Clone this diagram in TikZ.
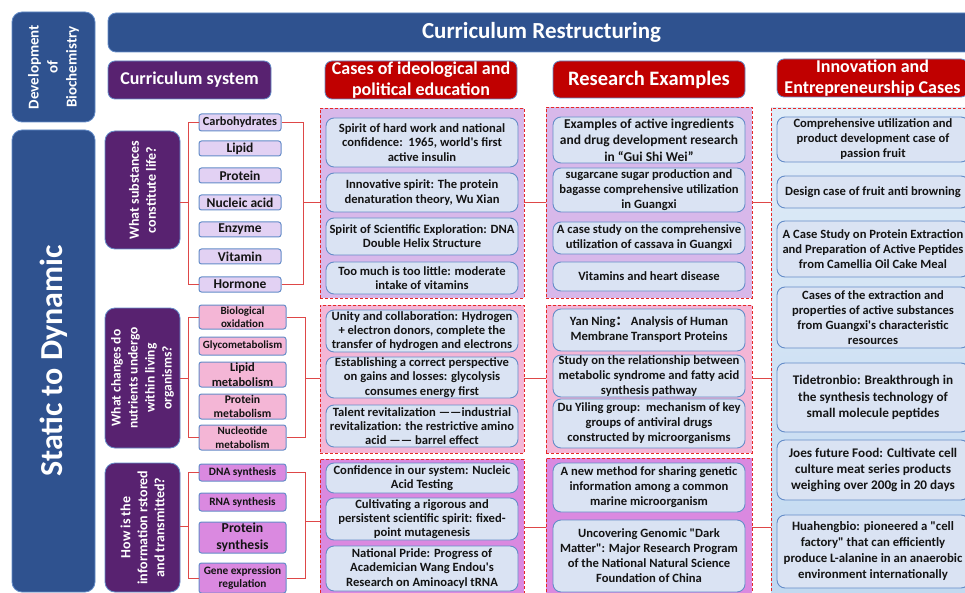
\documentclass[tikz,border=0pt]{standalone}
\usepackage{fontspec}
\usepackage{graphicx}
\setmainfont{Carlito}[Ligatures=TeXOff]
\newfontfamily\cjkfont{Noto Sans CJK SC}
\usetikzlibrary{calc}

\definecolor{navy}{RGB}{47,82,143}
\definecolor{plum}{RGB}{88,34,112}
\definecolor{brick}{RGB}{192,0,0}
\definecolor{rim}{RGB}{100,140,200}
\definecolor{ink}{RGB}{20,20,20}
\definecolor{lavitem}{RGB}{226,209,243}
\definecolor{pinkitem}{RGB}{244,182,214}
\definecolor{orchitem}{RGB}{218,137,224}
\definecolor{lavbg}{RGB}{216,184,234}
\definecolor{pinkbg}{RGB}{244,182,214}
\definecolor{orchbg}{RGB}{218,137,224}
\definecolor{paleblue}{RGB}{218,227,243}
\definecolor{linkred}{RGB}{222,72,72}
\definecolor{dashred}{RGB}{230,40,40}
\definecolor{skytop}{RGB}{224,236,248}
\definecolor{skybot}{RGB}{192,216,240}

% box given by its corners (x1,y1)-(x2,y2), centred text
\newcommand\boxnode[7]{%
  \pgfmathsetmacro\Bw{#5-#3}\pgfmathsetmacro\Bh{#6-#4}%
  \pgfmathsetmacro\Bx{(#3+#5)/2}\pgfmathsetmacro\By{(#4+#6)/2}%
  \node[#2,align=center,minimum width=\Bw pt,minimum height=\Bh pt,
        inner xsep=2pt,inner ysep=0pt] (#1) at (\Bx,\By) {#7};}
% same, with the text turned upright (reading bottom to top)
\newcommand\vboxnode[8]{%
  \pgfmathsetmacro\Bw{#5-#3}\pgfmathsetmacro\Bh{#6-#4}%
  \pgfmathsetmacro\Bx{(#3+#5)/2}\pgfmathsetmacro\By{(#4+#6)/2}%
  \node[#2,minimum width=\Bw pt,minimum height=\Bh pt,inner sep=0pt]
    (#1) at (\Bx,\By) {\rotatebox{90}{\parbox{#7pt}{\centering #8}}};}

\begin{document}
\begin{tikzpicture}[x=1pt,y=-1pt,
  navybox/.style={fill=navy,draw=rim,line width=0.8pt,rounded corners=10pt,text=white},
  plumbox/.style={fill=plum,draw=rim,line width=0.8pt,rounded corners=10pt,text=white},
  redhead/.style={fill=brick,draw=rim,line width=0.8pt,rounded corners=7pt,text=white,
                  font=\bfseries\fontsize{18}{21}\selectfont},
  item/.style={draw=rim,line width=1pt,rounded corners=2.5pt,text=ink},
  itemA/.style={item,fill=lavitem,font=\bfseries\fontsize{13.5}{15}\selectfont},
  itemB/.style={item,fill=pinkitem,font=\bfseries\fontsize{11}{13.5}\selectfont},
  itemC/.style={item,fill=orchitem,font=\bfseries\fontsize{11.3}{13.5}\selectfont},
  panel/.style={draw=dashred,line width=0.9pt,dash pattern=on 3pt off 2pt},
  card/.style={fill=paleblue,draw=rim,line width=0.9pt,rounded corners=8pt,text=ink,
               font=\bfseries\fontsize{12.6}{14.2}\selectfont},
  cardw/.style={card,font=\bfseries\fontsize{12.6}{15}\selectfont},
  link/.style={draw=linkred,line width=0.9pt}]

\useasboundingbox (0,0) rectangle (965,593);
\clip (0,0) rectangle (965,593);
\fill[white] (0,0) rectangle (965,593);

% ---------- headings ----------
\vboxnode{dev}{navybox,font=\bfseries\fontsize{15}{19}\selectfont}{12}{12}{95}{122}{100}{Development\\of\\Biochemistry}
\boxnode{title}{navybox,rounded corners=8pt,font=\bfseries\fontsize{23}{26}\selectfont}{108}{13}{975}{52}{Curriculum Restructuring}
\vboxnode{stat}{navybox,font=\bfseries\fontsize{32}{36}\selectfont}{12}{130}{95}{592}{400}{Static to Dynamic}

\boxnode{csys}{plumbox,rounded corners=7pt,font=\bfseries\fontsize{18}{21}\selectfont}{108}{61}{271}{99}{Curriculum system}
\boxnode{hcase}{redhead}{325}{61}{517}{99}{Cases of ideological and\\political education}
\boxnode{hres}{redhead,font=\bfseries\fontsize{20.5}{23}\selectfont}{553}{61}{745}{98}{Research Examples}
\boxnode{hinno}{redhead}{777}{59}{968}{97}{Innovation and\\Entrepreneurship Cases}

% ---------- guiding questions ----------
\vboxnode{q1}{plumbox,font=\bfseries\fontsize{14}{17}\selectfont}{105}{131}{180}{249}{112}{What substances\\constitute life?}
\vboxnode{q2}{plumbox,font=\bfseries\fontsize{13.5}{17}\selectfont}{105}{308}{180}{448}{130}{What changes do\\nutrients undergo\\within living\\organisms?}
\vboxnode{q3}{plumbox,font=\bfseries\fontsize{14}{17}\selectfont}{105}{463}{180}{592}{125}{How is the\\information rstored\\and transmitted?}

% ---------- topics ----------
\boxnode{carb}{itemA,font=\bfseries\fontsize{12.3}{14}\selectfont}{199}{114}{281}{131}{Carbohydrates}
\boxnode{lipid}{itemA}{199}{141}{281}{156}{Lipid}
\boxnode{prot}{itemA}{199}{168}{281}{183}{Protein}
\boxnode{nucl}{itemA}{199}{195}{281}{210}{Nucleic acid}
\boxnode{enz}{itemA}{199}{222}{281}{237}{Enzyme}
\boxnode{vit}{itemA}{199}{249}{281}{264}{Vitamin}
\boxnode{horm}{itemA}{199}{277}{281}{292}{Hormone}

\boxnode{bio}{itemB}{199}{305}{286}{329}{Biological\\oxidation}
\boxnode{glyco}{itemB}{199}{337}{286}{355}{Glycometabolism}
\boxnode{lipm}{itemB,font=\bfseries\fontsize{12.5}{14.5}\selectfont}{199}{362}{286}{387}{Lipid\\metabolism}
\boxnode{protm}{itemB,font=\bfseries\fontsize{11.7}{13.5}\selectfont}{199}{394}{286}{419}{Protein\\metabolism}
\boxnode{nucm}{itemB}{199}{425}{286}{450}{Nucleotide\\metabolism}

\boxnode{dna}{itemC}{199}{464}{286}{481}{DNA synthesis}
\boxnode{rna}{itemC}{199}{493}{286}{511}{RNA synthesis}
\boxnode{psyn}{itemC,font=\bfseries\fontsize{13.7}{16.5}\selectfont}{199}{522}{286}{553}{Protein\\synthesis}
\boxnode{gene}{itemC}{199}{563}{286}{593}{Gene expression\\regulation}

% ---------- ideological and political education ----------
\boxnode{pa1}{panel,fill=lavbg}{320}{108}{524}{298}{}
\boxnode{pa2}{panel,fill=pinkbg}{320}{305}{524}{453}{}
\boxnode{pa3}{panel,fill=orchbg}{320}{459}{524}{620}{}

\boxnode{a1}{card}{326}{118}{518}{167}{Spirit of hard work and national\\confidence:\ \ 1965, world's first\\active insulin}
\boxnode{a2}{card}{326}{173}{518}{212}{Innovative spirit: The protein\\denaturation theory, Wu Xian}
\boxnode{a3}{card}{326}{218}{518}{255}{Spirit of Scientific Exploration: DNA\\Double Helix Structure}
\boxnode{a4}{card}{326}{262}{518}{294}{Too much is too little: moderate\\intake of vitamins}
\boxnode{a5}{card}{326}{310}{518}{352}{Unity and collaboration: Hydrogen\\+ electron donors, complete the\\transfer of hydrogen and electrons}
\boxnode{a6}{card}{326}{357}{518}{398}{Establishing a correct perspective\\on gains and losses: glycolysis\\consumes energy first}
\boxnode{a7}{card}{326}{405}{518}{447}{Talent revitalization ——industrial\\revitalization: the restrictive amino\\acid —— barrel effect}
\boxnode{a8}{card}{326}{463}{518}{493}{Confidence in our system: Nucleic\\Acid Testing}
\boxnode{a9}{card}{326}{498}{518}{540}{Cultivating a rigorous and\\persistent scientific spirit: fixed-\\point mutagenesis}
\boxnode{a10}{card}{326}{546}{518}{591}{National Pride: Progress of\\Academician Wang Endou's\\Research on Aminoacyl tRNA}

% ---------- research examples ----------
\boxnode{pb1}{panel,fill=lavbg}{546}{107}{752}{298}{}
\boxnode{pb2}{panel,fill=pinkbg}{546}{305}{752}{453}{}
\boxnode{pb3}{panel,fill=orchbg}{546}{458}{752}{620}{}

\boxnode{b1}{cardw,font=\bfseries\fontsize{13.5}{16.5}\selectfont}{553}{117}{745}{163}{Examples of active ingredients\\and drug development research\\in “Gui Shi Wei”}
\boxnode{b2}{cardw}{553}{168}{745}{212}{sugarcane sugar production and\\bagasse comprehensive utilization\\in Guangxi}
\boxnode{b3}{cardw}{553}{222}{745}{254}{A case study on the comprehensive\\utilization of cassava in Guangxi}
\boxnode{b4}{cardw}{553}{262}{745}{291}{Vitamins and heart disease}
\boxnode{b5}{cardw}{553}{309}{745}{351}{Yan Ning{\cjkfont ：}\ Analysis of Human\\Membrane Transport Proteins}
\boxnode{b6}{cardw}{553}{355}{745}{397}{Study on the relationship between\\metabolic syndrome and fatty acid\\synthesis pathway}
\boxnode{b7}{cardw}{553}{399}{745}{448}{Du Yiling group:\ \ mechanism of key\\groups of antiviral drugs\\constructed by microorganisms}
\boxnode{b8}{cardw}{553}{463}{745}{512}{A new method for sharing genetic\\information among a common\\marine microorganism}
\boxnode{b9}{cardw}{553}{520}{745}{592}{Uncovering Genomic "Dark\\Matter": Major Research Program\\of the National Natural Science\\Foundation of China}

% ---------- innovation and entrepreneurship ----------
\boxnode{pc}{panel,top color=skytop,bottom color=skybot}{771}{108}{990}{620}{}

\boxnode{c1}{cardw}{777}{117}{969}{162}{Comprehensive utilization and\\product development case of\\passion fruit}
\boxnode{c2}{cardw}{777}{176}{969}{208}{Design case of fruit anti browning}
\boxnode{c3}{cardw}{777}{221}{969}{277}{A Case Study on Protein Extraction\\and Preparation of Active Peptides\\from Camellia Oil Cake Meal}
\boxnode{c4}{cardw}{777}{287}{969}{348}{Cases of the extraction and\\properties of active substances\\from Guangxi's characteristic\\resources}
\boxnode{c5}{cardw,font=\bfseries\fontsize{13.2}{16.5}\selectfont}{777}{363}{969}{432}{Tidetronbio: Breakthrough in\\the synthesis technology of\\small molecule peptides}
\boxnode{c6}{cardw,font=\bfseries\fontsize{13.2}{16}\selectfont}{777}{440}{969}{500}{Joes future Food: Cultivate cell\\culture meat series products\\weighing over 200g in 20 days}
\boxnode{c7}{cardw,font=\bfseries\fontsize{12.8}{16}\selectfont}{777}{515}{969}{588}{Huahengbio: pioneered a "cell\\factory" that can efficiently\\produce L-alanine in an anaerobic\\environment internationally}

% ---------- connectors ----------
\coordinate (sL1) at (188,202);
\coordinate (sR1) at (303,202);
\coordinate (sL2) at (188,378);
\coordinate (sR2) at (305,378);
\coordinate (sL3) at (188,526);
\coordinate (sR3) at (305,521);
\coordinate (m3) at (0,527);

\draw[link] (q1.east |- sL1) -- (sL1);
\draw[link] (carb.west) -| (sL1);
\draw[link] (horm.west) -| (sL1);
\draw[link] (carb.east) -| (sR1);
\draw[link] (horm.east) -| (sR1);
\draw[link] (sR1) -- (pa1.west |- sR1);
\draw[link] (pa1.east |- sR1) -- (pb1.west |- sR1);
\draw[link] (pb1.east |- sR1) -- (pc.west |- sR1);

\draw[link] (q2.east |- sL2) -- (sL2);
\draw[link] (bio.west) -| (sL2);
\draw[link] (nucm.west) -| (sL2);
\draw[link] (bio.east) -| (sR2);
\draw[link] (nucm.east) -| (sR2);
\draw[link] (sR2) -- (pa2.west |- sR2);
\draw[link] (pa2.east |- sR2) -- (pb2.west |- sR2);
\draw[link] (pb2.east |- sR2) -- (pc.west |- sR2);

\draw[link] (q3.east |- sL3) -- (sL3);
\draw[link] (dna.west) -| (sL3);
\draw[link] (gene.west) -| (sL3);
\draw[link] (dna.east) -| (sR3);
\draw[link] (gene.east) -| (sR3);
\draw[link] (sR3) -- (pa3.west |- sR3);
\draw[link] (pa3.east |- m3) -- (pb3.west |- m3);
\draw[link] (pb3.east |- m3) -- (pc.west |- m3);
\end{tikzpicture}
\end{document}
